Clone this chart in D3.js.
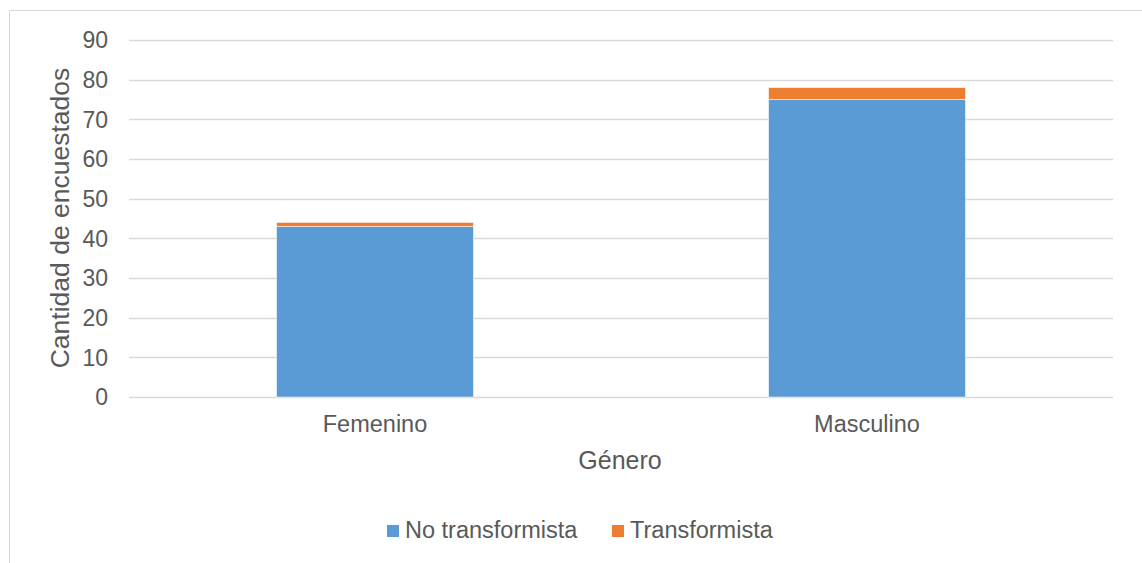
<!DOCTYPE html>
<html>
<head>
<meta charset="utf-8">
<script src="https://cdn.jsdelivr.net/npm/d3@7"></script>
<style>
  body { margin: 0; background: #fff; }
  text { font-family: "Liberation Sans", Arial, sans-serif; fill: #595959; }
</style>
</head>
<body>
<div id="chart"></div>
<script>
var categories = ['Femenino', 'Masculino'];
var seriesNames = ['No transformista', 'Transformista'];
var noTransformista = [43, 75];
var transformista = [1, 3];
var yTicks = [0, 10, 20, 30, 40, 50, 60, 70, 80, 90];
var colors = ['#5b9bd5', '#ed7d31'];

(function() {
  var width = 1142, height = 563;
  var svg = d3.select('#chart').append('svg')
    .attr('width', width)
    .attr('height', height);

  // chart border
  svg.append('rect')
    .attr('x', 9.5).attr('y', 10.5)
    .attr('width', 1160).attr('height', 600)
    .attr('fill', 'none')
    .attr('stroke', '#d9d9d9');

  var left = 129, right = 1113, top = 40, bottom = 397;

  var x = d3.scaleBand().domain(categories).range([left, right]).paddingInner(0.6).paddingOuter(0.3);
  var y = d3.scaleLinear().domain([0, 90]).range([bottom, top]);

  // gridlines
  svg.append('g').selectAll('line')
    .data(yTicks)
    .enter().append('line')
    .attr('x1', left).attr('x2', right)
    .attr('y1', function(d) { return Math.round(y(d)) + 0.5; })
    .attr('y2', function(d) { return Math.round(y(d)) + 0.5; })
    .attr('stroke', '#d9d9d9')
    .attr('stroke-width', 1.3);

  // y tick labels
  svg.append('g').selectAll('text')
    .data(yTicks)
    .enter().append('text')
    .attr('x', 108)
    .attr('y', function(d) { return y(d); })
    .attr('dy', '0.36em')
    .attr('text-anchor', 'end')
    .style('font-size', '23px')
    .text(function(d) { return d; });

  var rows = categories.map(function(c, i) {
    return { cat: c, 'No transformista': noTransformista[i], 'Transformista': transformista[i] };
  });
  var stacked = d3.stack().keys(seriesNames)(rows);

  svg.append('g').selectAll('g')
    .data(stacked)
    .enter().append('g')
    .attr('fill', function(d, i) { return colors[i]; })
    .selectAll('rect')
    .data(function(d) { return d; })
    .enter().append('rect')
    .attr('x', function(d) { return x(d.data.cat); })
    .attr('width', x.bandwidth())
    .attr('y', function(d) { return y(d[1]); })
    .attr('height', function(d) { return y(d[0]) - y(d[1]); })
    .attr('stroke', '#fff')
    .attr('stroke-width', 0.5);

  // category labels
  svg.append('g').selectAll('text')
    .data(categories)
    .enter().append('text')
    .attr('x', function(d) { return x(d) + x.bandwidth() / 2; })
    .attr('y', 432)
    .attr('text-anchor', 'middle')
    .style('font-size', '23.5px')
    .text(function(d) { return d; });

  // axis titles
  svg.append('text')
    .attr('x', 620).attr('y', 469)
    .attr('text-anchor', 'middle')
    .style('font-size', '25px')
    .text('Género');

  svg.append('text')
    .attr('transform', 'translate(69,218) rotate(-90)')
    .attr('text-anchor', 'middle')
    .style('font-size', '26.5px')
    .text('Cantidad de encuestados');

  // legend
  var legendX = [387, 612];
  var legend = svg.append('g').selectAll('g')
    .data(seriesNames)
    .enter().append('g')
    .attr('transform', function(d, i) { return 'translate(' + legendX[i] + ',525)'; });

  legend.append('rect')
    .attr('width', 12).attr('height', 12)
    .attr('fill', function(d, i) { return colors[i]; });

  legend.append('text')
    .attr('x', 18).attr('y', 13)
    .style('font-size', '23.5px')
    .text(function(d) { return d; });
})();
</script>
</body>
</html>
